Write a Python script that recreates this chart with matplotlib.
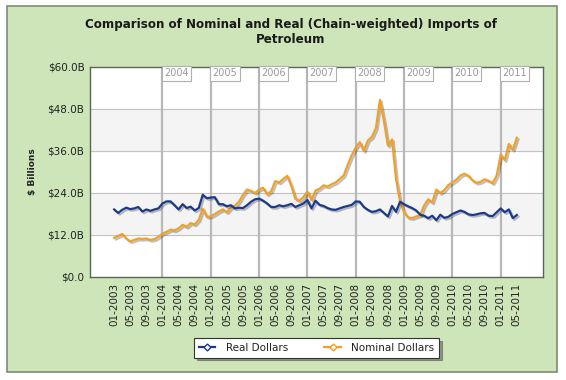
import numpy as np
import pandas as pd
import matplotlib
matplotlib.use("Agg")
import matplotlib.pyplot as plt
import matplotlib.patheffects as pe
from matplotlib.patches import Rectangle
from matplotlib.lines import Line2D

# monthly values, $ billions, 01-2003 .. 05-2011
real = [
    19.3, 18.3, 19.2, 19.8, 19.4, 19.6, 20.0, 18.7, 19.3, 18.9, 19.3, 19.6,
    21.0, 21.6, 21.6, 20.5, 19.3, 20.8, 19.7, 20.1, 19.0, 19.7, 23.5, 22.5,
    22.7, 22.8, 20.8, 20.8, 20.2, 20.5, 19.6, 19.8, 19.7, 20.5, 21.5, 22.2,
    22.4, 21.8, 21.0, 20.0, 20.0, 20.5, 20.2, 20.5, 20.9, 20.0, 20.5, 21.0,
    22.0, 19.6, 21.8, 20.6, 20.3, 19.7, 19.3, 19.2, 19.6, 20.0, 20.3, 20.6,
    21.6, 21.5, 20.0, 19.2, 18.6, 18.8, 19.3, 18.3, 17.3, 20.3, 18.6, 21.5,
    20.8, 20.2, 19.7, 19.0, 17.8, 17.5, 16.8, 17.5, 16.2, 17.8, 16.9, 17.2,
    18.0, 18.5, 19.0, 18.6, 17.9, 17.7, 17.9, 18.2, 18.3, 17.5, 17.4, 18.5,
    19.6, 18.5, 19.3, 16.8, 17.7,
]
nominal = [
    11.2, 11.7, 12.3, 11.0, 10.2, 10.6, 11.0, 10.9, 11.0, 10.6, 10.8, 11.5,
    12.4, 12.9, 13.5, 13.3, 13.9, 14.9, 14.3, 15.4, 15.0, 16.3, 19.5, 17.2,
    17.3, 18.0, 18.7, 19.3, 18.5, 19.8, 20.4, 21.5, 23.5, 25.0, 24.6, 24.0,
    25.0, 25.5, 23.6, 24.5, 27.4, 27.0, 28.0, 28.9, 26.0, 22.3, 21.8, 22.8,
    24.4, 22.0, 24.7, 25.2, 26.2, 25.8, 26.5, 27.0, 28.0, 29.0, 32.0, 34.8,
    37.0, 38.5, 36.0, 39.0, 40.0, 42.5, 50.6, 44.5, 37.5, 39.3, 28.0, 21.5,
    18.5, 17.0, 16.8, 17.3, 17.6, 20.5, 22.2, 21.3, 25.0, 24.0, 24.8, 26.3,
    27.0, 27.8, 29.0, 29.5, 28.9, 27.6, 26.9, 27.2, 27.9, 27.5, 26.8, 29.0,
    35.0, 33.4, 38.0, 36.3, 39.8,
]
months = pd.date_range("2003-01-01", periods=len(real), freq="MS")
y_ticks = [0, 12, 24, 36, 48, 60]

blue = "#1c3a8c"
orange = "#f2a024"
text_col = "#222222"

fig = plt.figure(figsize=(5.66, 3.80), dpi=100)
fig.patch.set_facecolor("white")
fig.patches.append(
    Rectangle((7 / 566, 1 - 372 / 380), 550 / 566, 366 / 380,
              transform=fig.transFigure, facecolor="#cde5b9",
              edgecolor="#7d8c76", lw=1.2, zorder=-5)
)

ax = fig.add_axes([90 / 566, 1 - 277 / 380, 453 / 566, 210 / 380])
ax.set_facecolor("white")
x = np.arange(len(real))

# alternating bands and grid
for lo, hi in [(12, 24), (36, 48)]:
    ax.axhspan(lo, hi, color="#f4f4f4", zorder=0)
for v in y_ticks[1:-1]:
    ax.axhline(v, color="#c4c4c4", lw=0.8, zorder=1)

# year separators with boxed labels
for i, d in enumerate(months):
    if d.month == 1 and i > 0:
        ax.axvline(i, color="#b8b8b8", lw=1.6, zorder=1)
        ax.text(i + 0.45, 59.6, str(d.year), ha="left", va="top", fontsize=7,
                color="#999999", zorder=3,
                bbox=dict(boxstyle="square,pad=0.22", fc="white", ec="#b0b0b0", lw=0.8))

shadow = [pe.SimpleLineShadow(offset=(1.2, -1.2), alpha=0.25), pe.Normal()]
ax.plot(x, nominal, color=orange, lw=1.6, zorder=4, path_effects=shadow)
ax.plot(x, real, color=blue, lw=1.6, zorder=5, path_effects=shadow)

ax.set_xlim(-6, 106.5)
ax.set_ylim(0, 60)
ax.set_yticks(y_ticks)
ax.set_yticklabels([f"${v:.1f}B" if v else "$0.0" for v in y_ticks])
tick_idx = x[::4]
ax.set_xticks(tick_idx)
ax.set_xticklabels([months[i].strftime("%m-%Y") for i in tick_idx], rotation=90)
ax.tick_params(axis="both", length=0, labelsize=7.5, colors=text_col, pad=4)
for s in ax.spines.values():
    s.set_color("#5b665b")
    s.set_linewidth(1)

fig.text(0.5 + 8 / 566, 1 - 32 / 380,
         "Comparison of Nominal and Real (Chain-weighted) Imports of\nPetroleum",
         ha="center", va="center", fontsize=8.6, fontweight="bold",
         color="#1a1a1a", linespacing=1.25)
fig.text(33 / 566, 1 - 172 / 380, "$ Billions", rotation=90, ha="center",
         va="center", fontsize=6.5, fontweight="bold", color=text_col)

handles = [
    Line2D([], [], color=blue, lw=1.6, marker="D", markersize=3.5,
           markerfacecolor="white", markeredgecolor=blue),
    Line2D([], [], color=orange, lw=1.6, marker="D", markersize=3.5,
           markerfacecolor="white", markeredgecolor=orange),
]
leg = ax.legend(handles, ["Real Dollars", "Nominal Dollars"], loc="center",
                bbox_to_anchor=(0.5, -0.338), ncol=2, fontsize=7.5,
                frameon=True, fancybox=False, shadow=True, handlelength=1.6,
                columnspacing=3.5, borderpad=0.45, handletextpad=1.0)
leg.get_frame().set_edgecolor("#333333")
leg.get_frame().set_linewidth(0.8)
for t in leg.get_texts():
    t.set_color(text_col)

fig.savefig("out.png", dpi=100)
